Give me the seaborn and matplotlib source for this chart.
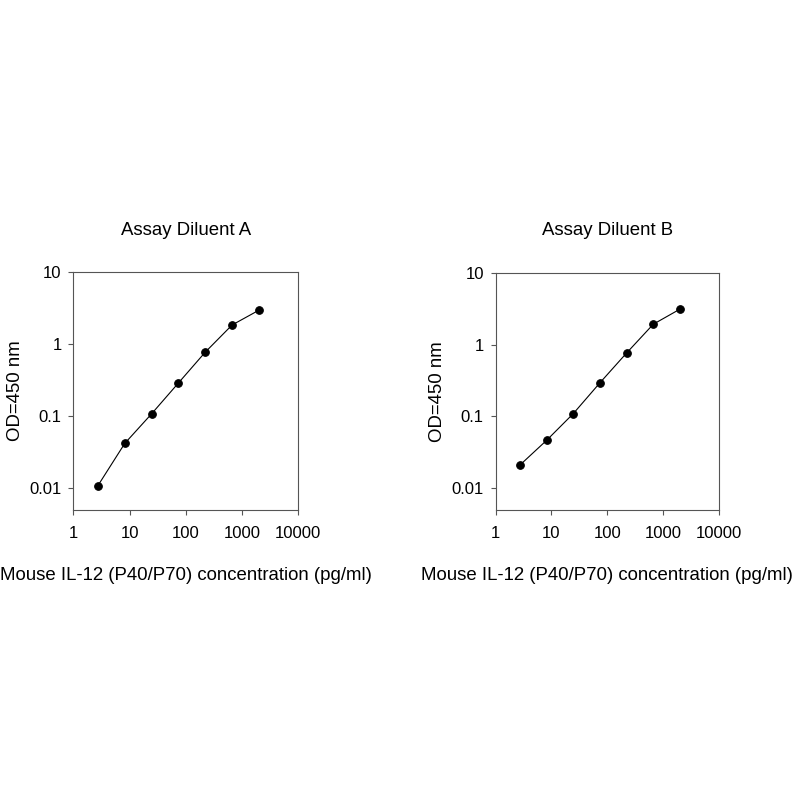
import matplotlib
matplotlib.use("Agg")
import matplotlib.pyplot as plt
import seaborn as sns
import pandas as pd
from matplotlib.ticker import FixedLocator, FixedFormatter, NullLocator

# Data
concentration = [2.74, 8.23, 24.7, 74.1, 222.2, 666.7, 2000.0]
od_diluent_a = [0.0109, 0.042, 0.108, 0.289, 0.773, 1.84, 2.95]
od_diluent_b = [0.0212, 0.0468, 0.110, 0.295, 0.765, 1.92, 3.11]
panel_titles = ["Assay Diluent A", "Assay Diluent B"]
x_ticks = [1, 10, 100, 1000, 10000]
x_tick_labels = ["1", "10", "100", "1000", "10000"]
y_ticks = [0.01, 0.1, 1, 10]
y_tick_labels = ["0.01", "0.1", "1", "10"]
x_label = "Mouse IL-12 (P40/P70) concentration (pg/ml)"
y_label = "OD=450 nm"

sns.set_theme(style="white")
plt.rcParams['font.family'] = ['Liberation Sans', 'DejaVu Sans']

fig = plt.figure(figsize=(8, 8), dpi=100)
positions = [[0.0917, 0.3625, 0.281, 0.2975], [0.6196, 0.3625, 0.279, 0.2966]]
series = [od_diluent_a, od_diluent_b]

for pos, title, od in zip(positions, panel_titles, series):
    ax = fig.add_axes(pos)
    df = pd.DataFrame({"conc": concentration, "od": od})
    sns.lineplot(data=df, x="conc", y="od", ax=ax, color="black", linewidth=0.8,
                 marker="o", markersize=5.5, markeredgecolor="black", markerfacecolor="black")
    ax.set_xscale("log")
    ax.set_yscale("log")
    ax.set_xlim(1, 10000)
    ax.set_ylim(0.005, 10)
    ax.xaxis.set_major_locator(FixedLocator(x_ticks))
    ax.xaxis.set_major_formatter(FixedFormatter(x_tick_labels))
    ax.xaxis.set_minor_locator(NullLocator())
    ax.yaxis.set_major_locator(FixedLocator(y_ticks))
    ax.yaxis.set_major_formatter(FixedFormatter(y_tick_labels))
    ax.yaxis.set_minor_locator(NullLocator())
    ax.tick_params(axis="both", which="major", direction="out", length=3.5, width=0.8,
                   color="#555555", labelsize=12, labelcolor="black", pad=5,
                   bottom=True, left=True)
    ax.tick_params(axis="x", pad=8)
    for s in ax.spines.values():
        s.set_color("#555555")
        s.set_linewidth(0.8)
        s.set_visible(True)
    ax.set_xlabel(x_label, fontsize=13.4, labelpad=19, color="black")
    ax.set_ylabel(y_label, fontsize=13.4, labelpad=4, color="black")
    ax.set_title(title, fontsize=13.4, pad=27, color="black")
    ax.grid(False)

fig.savefig("out.png", dpi=100, facecolor="white")
